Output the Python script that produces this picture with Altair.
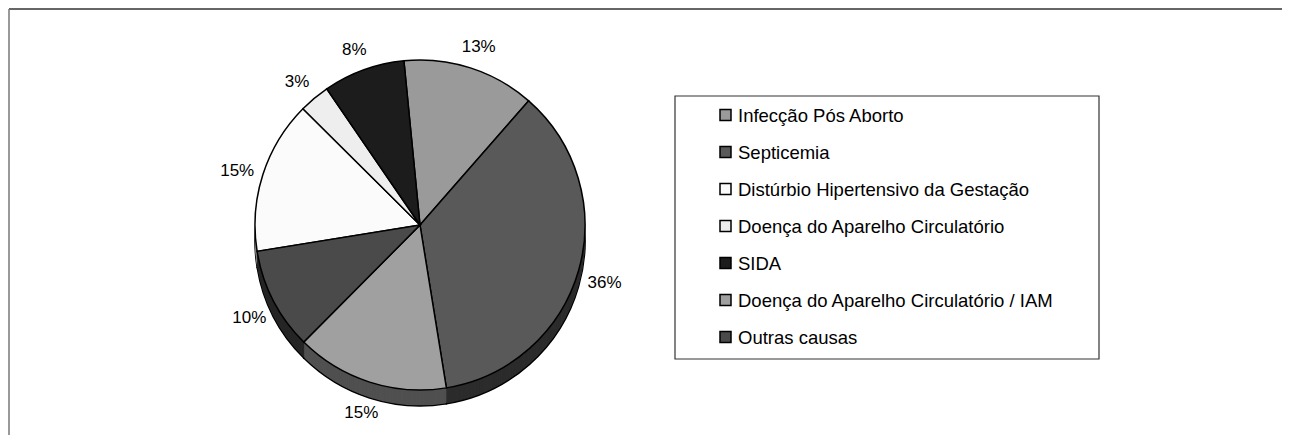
import math
import altair as alt
import pandas as pd

# ---- data (legend order) ----
causas = [
    "Infecção Pós Aborto",
    "Septicemia",
    "Distúrbio Hipertensivo da Gestação",
    "Doença do Aparelho Circulatório",
    "SIDA",
    "Doença do Aparelho Circulatório / IAM",
    "Outras causas",
]
valores = [13, 36, 15, 3, 8, 15, 10]
ordem_fatia = [1, 2, 5, 6, 7, 3, 4]   # clockwise order of slices in the pie

# ---- styles ----
cores_topo = ["#9a9a9a", "#595959", "#fbfbfb", "#eeeeee", "#1c1c1c", "#a0a0a0", "#4a4a4a"]
cores_lado = ["#4d4d4d", "#2c2c2c", "#7e7e7e", "#777777", "#0e0e0e", "#505050", "#252525"]

df = pd.DataFrame({
    "causa": causas,
    "valor": valores,
    "ordem": ordem_fatia,
    "rotulo": [f"{v}%" for v in valores],
})

W, H = 1274, 427
CX, CY = 411, 216
R = 165
DEPTH = 16
start = math.radians(-5.6)
theta_scale = alt.Scale(range=[start, start + 2 * math.pi])
color_scale = alt.Scale(domain=causas, range=cores_topo)

base = alt.Chart(df)
theta = alt.Theta("valor:Q", stack=True, scale=theta_scale)
order = alt.Order("ordem:Q", sort="ascending")

# 3D side (extrusion) layers, drawn from bottom up
depth_layers = []
for k in range(DEPTH, 0, -1):
    depth_layers.append(
        base.transform_calculate(lado="datum.causa").mark_arc(
            radius=R,
            stroke="black" if k == DEPTH else None,
            strokeWidth=1.5 if k == DEPTH else 0,
        ).encode(
            theta=theta,
            order=order,
            fill=alt.Fill("lado:N", scale=alt.Scale(domain=causas, range=cores_lado), legend=None),
            x=alt.value(CX),
            y=alt.value(CY + k),
        )
    )

top = base.mark_arc(radius=R, stroke="black", strokeWidth=1.5).encode(
    theta=theta,
    order=order,
    color=alt.Color("causa:N", scale=color_scale, legend=None),
    x=alt.value(CX),
    y=alt.value(CY),
)

labels = base.mark_text(
    radius=192, dy=5, font="Liberation Sans", fontSize=17, color="black"
).encode(
    theta=theta,
    order=order,
    text="rotulo:N",
    x=alt.value(CX),
    y=alt.value(CY),
)

# ---- legend drawn with marks ----
leg_y = alt.Y(
    "causa:N",
    scale=alt.Scale(type="point", domain=causas, range=[106, 328], padding=0),
    axis=None,
)
leg_sym = base.mark_square(size=121, stroke="black", strokeWidth=1.5, opacity=1).encode(
    x=alt.value(716.5),
    y=leg_y,
    color=alt.Color("causa:N", scale=color_scale, legend=None),
)
leg_txt = base.mark_text(
    align="left", baseline="middle", font="Liberation Sans", fontSize=18.5, color="black", dy=1
).encode(
    x=alt.value(729),
    y=leg_y,
    text="causa:N",
)

frame_data = alt.Data(values=[{"a": 1}])
legend_box = alt.Chart(frame_data).mark_rect(
    fill=None, stroke="#333333", strokeWidth=1.2
).encode(
    x=alt.value(666), x2=alt.value(1090), y=alt.value(87), y2=alt.value(350)
)
top_border = alt.Chart(frame_data).mark_rule(color="#333333", strokeWidth=1.5).encode(
    x=alt.value(0), x2=alt.value(W), y=alt.value(0)
)
left_border = alt.Chart(frame_data).mark_rule(color="#777777", strokeWidth=1.5).encode(
    x=alt.value(0), y=alt.value(0), y2=alt.value(H)
)

chart = alt.layer(
    *depth_layers, top, labels, legend_box, leg_sym, leg_txt, top_border, left_border
).properties(
    width=W,
    height=H,
    autosize=alt.AutoSizeParams(type="fit", contains="padding"),
    padding=0,
    background="white",
).configure_view(stroke=None)

chart.save("out.html", embed_options={"renderer": "svg", "actions": False})
